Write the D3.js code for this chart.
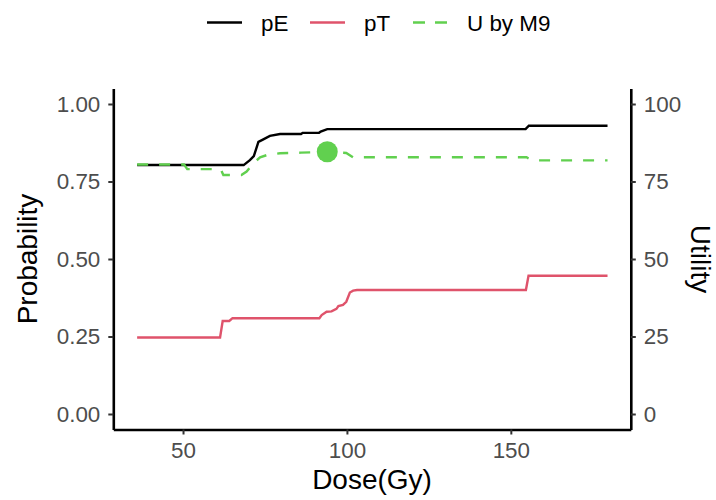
<!DOCTYPE html>
<html>
<head>
<meta charset="utf-8">
<script src="https://cdn.jsdelivr.net/npm/d3@7"></script>
<style>
  body { margin: 0; background: #fff; }
  text { font-family: "Liberation Sans", Arial, Helvetica, sans-serif; }
</style>
</head>
<body>
<script>
// breakpoints (dose in Gy)
const peDose = [36, 68.5, 70.4, 71.6, 73, 74.5, 76.5, 79.6, 86, 86.5, 91.5, 92, 94, 154.5, 155.5, 179.5];
const peVal  = [0.803, 0.803, 0.819, 0.832, 0.878, 0.886, 0.897, 0.903, 0.903, 0.907, 0.907, 0.911, 0.919, 0.919, 0.930, 0.930];

const ptDose = [36, 61.3, 62.1, 64.1, 65.1, 91.6, 92.3, 93.8, 95.3, 96.8, 97.4, 98.8, 99.8, 100.9, 101.9, 103.1, 154.6, 155.4, 179.5];
const ptVal  = [0.247, 0.247, 0.300, 0.300, 0.309, 0.309, 0.319, 0.330, 0.331, 0.339, 0.348, 0.352, 0.362, 0.392, 0.398, 0.400, 0.400, 0.446, 0.446];

const uDose = [36, 50.3, 51.3, 61.5, 62.3, 67.8, 69.4, 71.5, 73.5, 75.5, 79.6, 86, 94, 99.8, 101.9, 154.8, 156.5, 179.5];
const uVal  = [80.5, 80.5, 79.0, 79.0, 77.1, 77.1, 78.2, 80.9, 82.8, 83.5, 84.1, 84.3, 84.6, 84.2, 82.8, 82.8, 81.8, 81.8];

const bestDose = 94;
const bestU = 84.6;

const xTicks = [50, 100, 150];
const probTicks = [0, 0.25, 0.5, 0.75, 1];
const utilTicks = [0, 25, 50, 75, 100];

const legendLabels = ["pE", "pT", "U by M9"];
const colors = ["#000000", "#DF536B", "#61D04F"];

const w = 716, h = 500;
const padL = 113.3, padR = 630.8, padT = 88.5, padB = 429.5;

const svg = d3.select("body").append("svg")
  .attr("width", w)
  .attr("height", h);

const x = d3.scaleLinear().domain([28.73, 186.6]).range([padL, padR]);
const y = d3.scaleLinear().domain([-0.05, 1.05]).range([padB, padT]);
const yU = d3.scaleLinear().domain([-5, 105]).range([padB, padT]);

const line = d3.line().x(d => x(d[0])).y(d => y(d[1]));
const lineU = d3.line().x(d => x(d[0])).y(d => yU(d[1]));

svg.append("path")
  .datum(d3.zip(ptDose, ptVal))
  .attr("d", line)
  .attr("fill", "none")
  .attr("stroke", colors[1])
  .attr("stroke-width", 2.4);

svg.append("path")
  .datum(d3.zip(peDose, peVal))
  .attr("d", line)
  .attr("fill", "none")
  .attr("stroke", colors[0])
  .attr("stroke-width", 2.4);

svg.append("path")
  .datum(d3.zip(uDose, uVal))
  .attr("d", lineU)
  .attr("fill", "none")
  .attr("stroke", colors[2])
  .attr("stroke-width", 2.4)
  .attr("stroke-dasharray", "11,11");

svg.append("circle")
  .attr("cx", x(bestDose))
  .attr("cy", yU(bestU))
  .attr("r", 10.5)
  .attr("fill", colors[2]);

// axes
function styleAxis(g) {
  g.select(".domain").attr("stroke", "#000").attr("stroke-width", 2.6);
  g.selectAll(".tick line").attr("stroke", "#333").attr("stroke-width", 2);
  g.selectAll(".tick text").attr("fill", "#4D4D4D").style("font-size", "22.4px");
}

svg.append("g")
  .attr("transform", `translate(${padL},0)`)
  .call(d3.axisLeft(y).tickValues(probTicks).tickFormat(d3.format(".2f")).tickSize(5).tickPadding(8).tickSizeOuter(0))
  .call(styleAxis);

svg.append("g")
  .attr("transform", `translate(${padR},0)`)
  .call(d3.axisRight(yU).tickValues(utilTicks).tickFormat(d3.format("d")).tickSize(5).tickPadding(8).tickSizeOuter(0))
  .call(styleAxis);

svg.append("g")
  .attr("transform", `translate(0,${padB})`)
  .call(d3.axisBottom(x).tickValues(xTicks).tickFormat(d3.format("d")).tickSize(5).tickPadding(8).tickSizeOuter(0))
  .call(styleAxis);

// titles
svg.append("text")
  .attr("transform", `translate(37,${(padT + padB) / 2}) rotate(-90)`)
  .attr("text-anchor", "middle")
  .style("font-size", "28px")
  .text("Probability");

svg.append("text")
  .attr("transform", `translate(691,${(padT + padB) / 2}) rotate(90)`)
  .attr("text-anchor", "middle")
  .style("font-size", "28px")
  .text("Utility");

svg.append("text")
  .attr("x", (padL + padR) / 2)
  .attr("y", 489)
  .attr("text-anchor", "middle")
  .style("font-size", "28px")
  .text("Dose(Gy)");

// legend
const keyX = [207, 310, 413];
const legend = svg.append("g");
legendLabels.forEach((lab, i) => {
  legend.append("line")
    .attr("x1", keyX[i]).attr("x2", keyX[i] + 35)
    .attr("y1", 22.5).attr("y2", 22.5)
    .attr("stroke", colors[i])
    .attr("stroke-width", 2.4)
    .attr("stroke-dasharray", i === 2 ? "12,10" : null);
  legend.append("text")
    .attr("x", keyX[i] + 54)
    .attr("y", 30.5)
    .style("font-size", "22.4px")
    .text(lab);
});
</script>
</body>
</html>
